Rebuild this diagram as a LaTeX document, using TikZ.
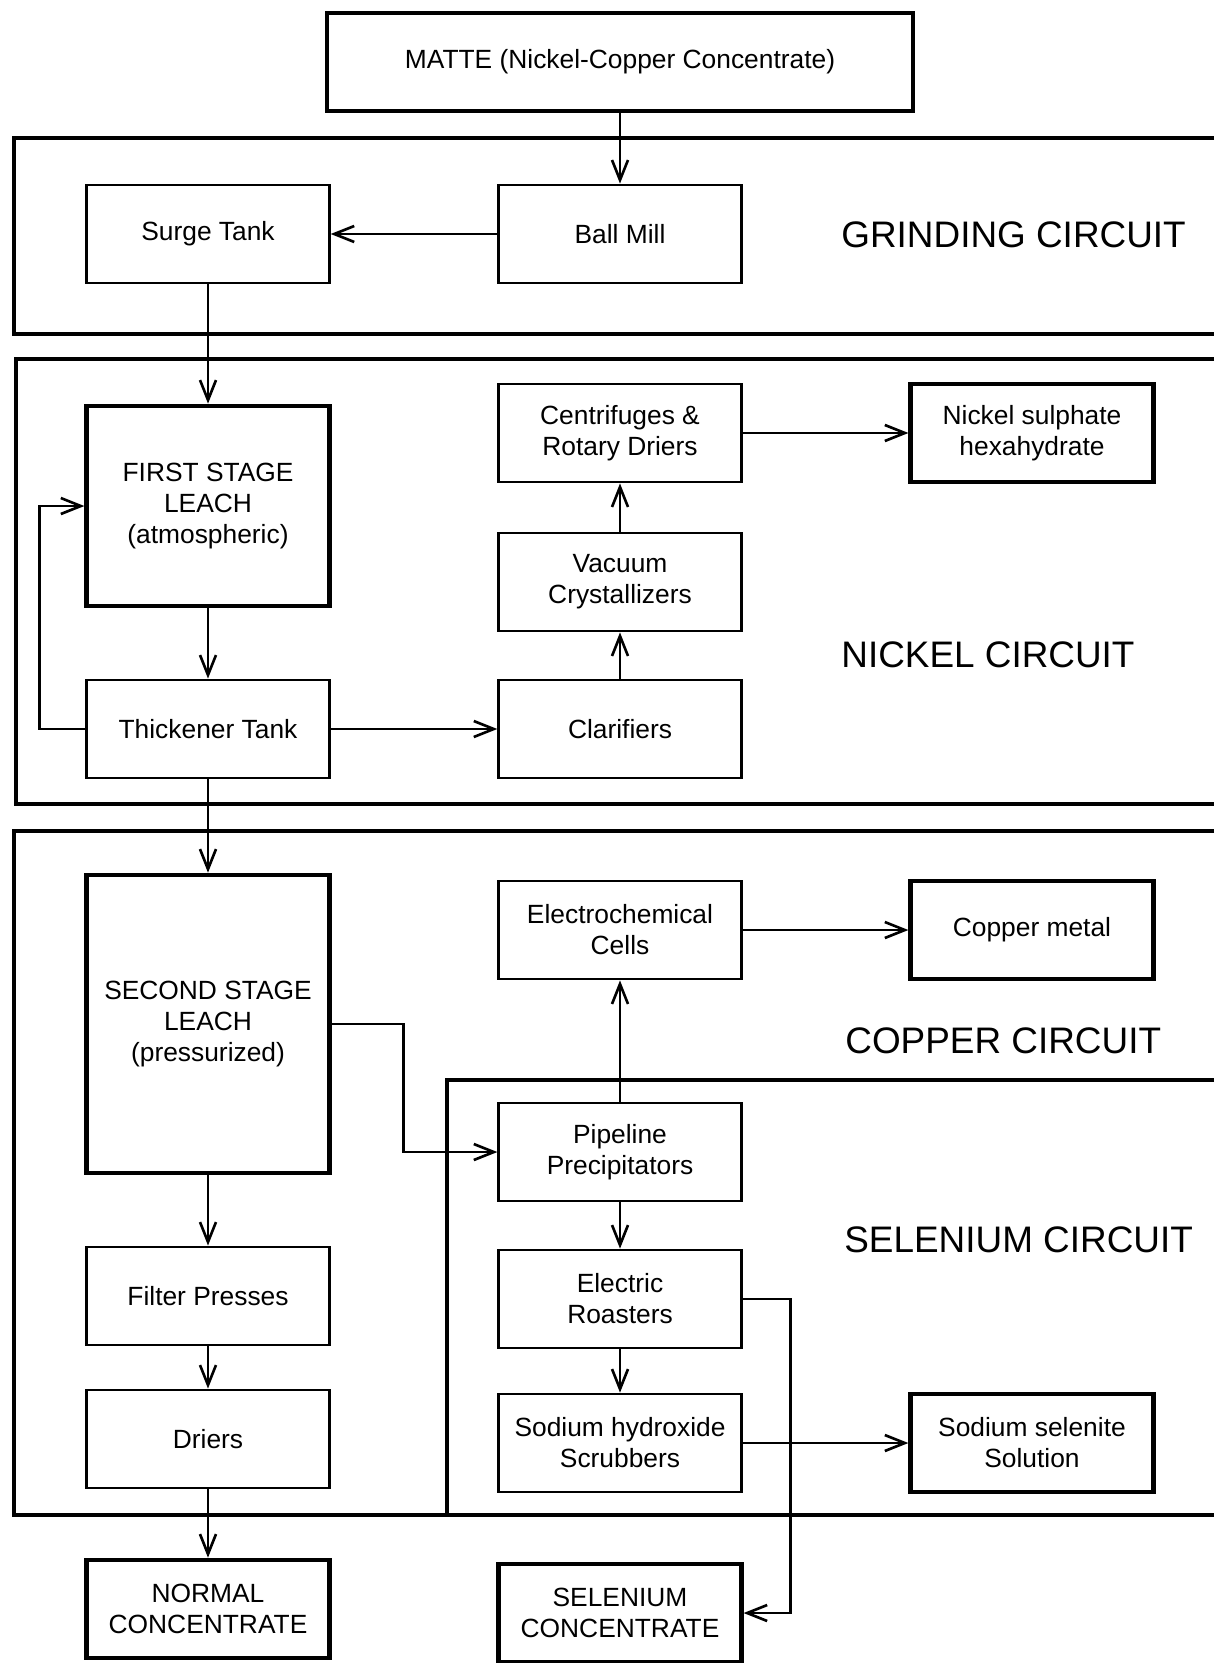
\documentclass[tikz,border=0pt]{standalone}
\usepackage{fontspec}
\setmainfont{Liberation Sans}
\usetikzlibrary{arrows.meta}

\begin{document}
\begin{tikzpicture}[node distance=8.24cm, auto,
        box/.style={draw, rectangle, line width=1.6pt, minimum width=4.85cm, minimum height=1.96cm, align=center, inner sep=2pt, font=\fontsize{15}{17.6}\selectfont},
        endbox/.style={box, line width=2.7pt},
        frame/.style={line width=1.9pt},
        arr/.style={-{Straight Barb[length=4mm,width=3.2mm]}, line width=1.5pt},
        circuit/.style={anchor=west, inner sep=0pt, font=\fontsize{21}{25}\selectfont}]
        \useasboundingbox (0,0) rectangle (24.28,-33.26);

        % Circuit frames
        \draw[frame] (24.28,-2.76) -- (0.28,-2.76) -- (0.28,-6.68) -- (24.28,-6.68);
        \draw[frame] (24.28,-7.18) -- (0.32,-7.18) -- (0.32,-16.08) -- (24.28,-16.08);
        \draw[frame] (24.28,-16.62) -- (0.28,-16.62) -- (0.28,-30.3) -- (24.28,-30.3);
        \draw[frame] (24.28,-21.6) -- (8.94,-21.6) -- (8.94,-30.3);

        \node[circuit] (grindlbl) at (16.82,-4.7) {GRINDING CIRCUIT};
        \node[circuit] (nickellbl) at (16.82,-13.1) {NICKEL CIRCUIT};
        \node[circuit] (copperlbl) at (16.9,-20.82) {COPPER CIRCUIT};
        \node[circuit] (selenlbl) at (16.88,-24.8) {SELENIUM CIRCUIT};

        % Nodes
        \node[endbox, minimum width=11.72cm] (matte) at (12.4,-1.24) {MATTE (Nickel-Copper Concentrate)};
        \node[box, below of=matte, node distance=3.44cm] (ball) {Ball Mill};
        \node[box, left of=ball] (surge) {Surge Tank};
        \node[endbox, minimum height=4cm, below of=surge, node distance=5.44cm] (first) {FIRST STAGE\\LEACH\\(atmospheric)};
        \node[box, below of=first, node distance=4.46cm] (thick) {Thickener Tank};
        \node[box, right of=thick] (clar) {Clarifiers};
        \node[box, above of=clar, node distance=2.94cm] (vac) {Vacuum\\Crystallizers};
        \node[box, above of=vac, node distance=2.98cm] (cent) {Centrifuges \&\\Rotary Driers};
        \node[endbox, right of=cent] (nisul) {Nickel sulphate\\hexahydrate};

        \node[endbox, minimum height=5.96cm, below of=thick, node distance=5.9cm] (second) {SECOND STAGE\\LEACH\\(pressurized)};
        \node[box, below of=clar, node distance=4.02cm] (elec) {Electrochemical\\Cells};
        \node[endbox, right of=elec] (cumetal) {Copper metal};
        \node[box, below of=elec, node distance=4.44cm] (pipe) {Pipeline\\Precipitators};
        \node[box, below of=pipe, node distance=2.94cm] (roast) {Electric\\Roasters};
        \node[box, below of=roast, node distance=2.88cm] (scrub) {Sodium hydroxide\\Scrubbers};
        \node[endbox, right of=scrub] (nasel) {Sodium selenite\\Solution};
        \node[box, below of=second, node distance=5.44cm] (filter) {Filter Presses};
        \node[box, below of=filter, node distance=2.86cm] (driers) {Driers};
        \node[endbox, below of=driers, node distance=3.4cm] (normal) {NORMAL\\CONCENTRATE};
        \node[endbox, below of=scrub, node distance=3.4cm] (seconc) {SELENIUM\\CONCENTRATE};

        % Arrows
        \draw[arr] (matte) -- (ball);
        \draw[arr] (ball) -- (surge);
        \draw[arr] (surge) -- (first);
        \draw[arr] (first) -- (thick);
        \draw[arr] (thick.west) -- ++(-0.92,0) |- (first.west);
        \draw[arr] (thick) -- (clar);
        \draw[arr] (clar) -- (vac);
        \draw[arr] (vac) -- (cent);
        \draw[arr] (cent) -- (nisul);
        \draw[arr] (thick) -- (second);
        \draw[arr] (second.east) -- ++(1.44,0) |- (pipe.west);
        \draw[arr] (pipe) -- (elec);
        \draw[arr] (elec) -- (cumetal);
        \draw[arr] (pipe) -- (roast);
        \draw[arr] (roast) -- (scrub);
        \draw[arr] (scrub) -- (nasel);
        \draw[arr] (roast.east) -- ++(0.96,0) |- (seconc.east);
        \draw[arr] (second) -- (filter);
        \draw[arr] (filter) -- (driers);
        \draw[arr] (driers) -- (normal);
    \end{tikzpicture}
\end{document}
